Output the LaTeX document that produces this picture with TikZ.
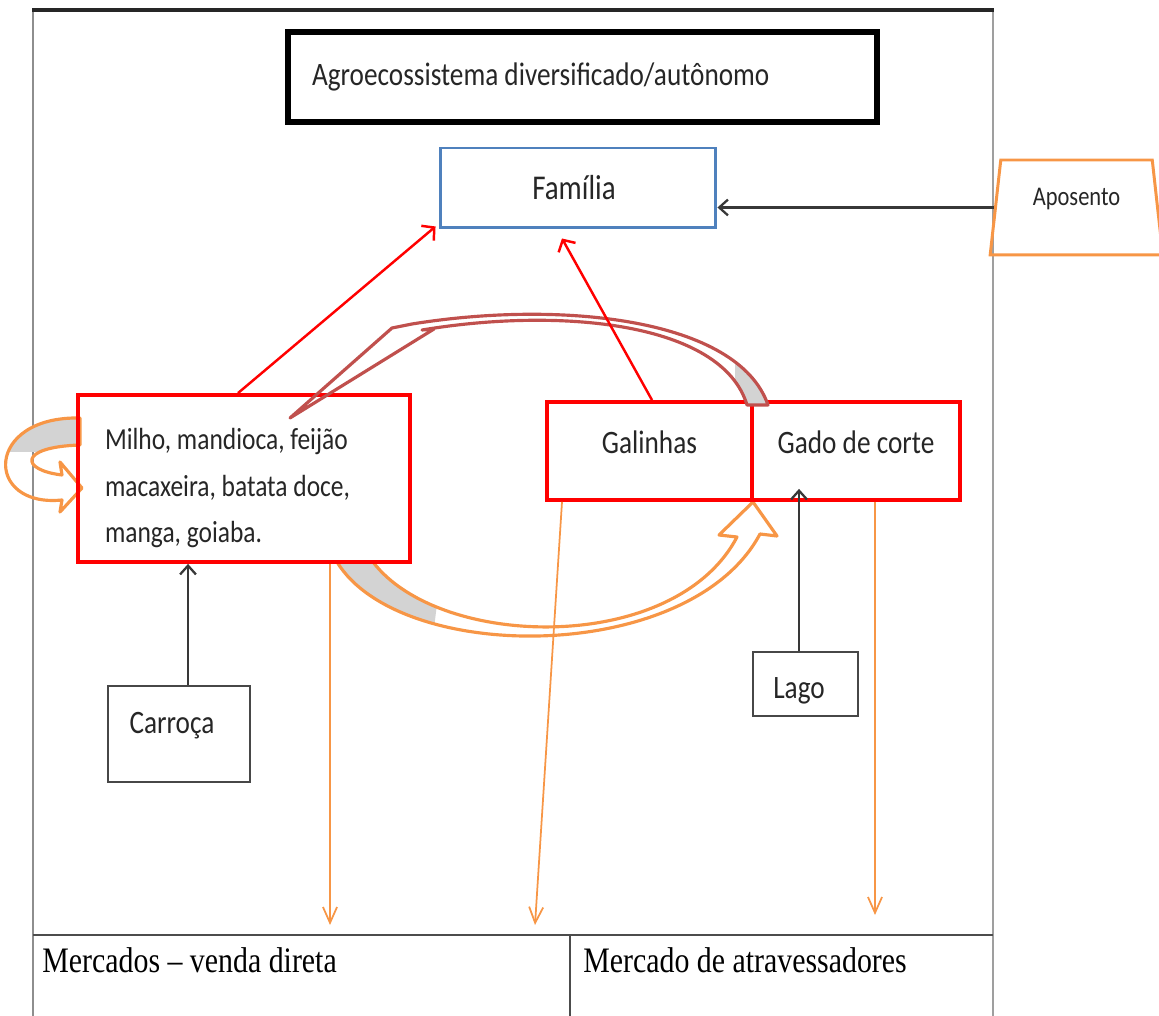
\documentclass[tikz,border=0pt]{standalone}
\usepackage{fontspec}
\usepackage{graphicx}
\setmainfont{Carlito}
\newfontfamily\cellserif{Liberation Serif}
\usetikzlibrary{arrows.meta,shapes.geometric,calc}

\definecolor{boxred}{HTML}{FF0000}
\definecolor{famblue}{HTML}{4F81BD}
\definecolor{accorange}{HTML}{F79646}
\definecolor{arcred}{HTML}{C0504D}
\definecolor{backgrey}{HTML}{D3D3D3}
\definecolor{framegrey}{HTML}{8E8E8E}
\definecolor{inkdark}{HTML}{262626}

% text in this figure is set slightly taller than wide
\newcommand{\stretchtext}[1]{\scalebox{1}[1.2]{#1}}

\begin{document}
\begin{tikzpicture}[x=0.02cm, y=-0.02cm,
  lbl/.style={text=inkdark, font=\fontsize{15.5}{18}\selectfont, inner sep=0pt},
  redbox/.style={lbl, draw=boxred, line width=2.2pt},
  greybox/.style={lbl, draw=black!72, line width=1.1pt},
  cellfont/.style={text=black, font=\cellserif\fontsize{17}{20}\selectfont, inner sep=0pt},
  redarrow/.style={draw=boxred, line width=1.4pt, -{Straight Barb[length=5pt,width=11pt]}},
  blackarrow/.style={draw=black!78, line width=1.3pt, -{Straight Barb[length=5pt,width=9pt]}},
  orangearrow/.style={draw=accorange, line width=1pt, -{Straight Barb[length=9pt,width=8pt]}},
  bandline/.style={line width=1.8pt, line join=round},
]
\useasboundingbox (0,0) rectangle (1159,1016);
\clip (0,0) rectangle (1159,1016);

% outer frame and market table
\draw[framegrey, line width=1.2pt] (33,10) -- (33,1030);
\draw[framegrey!85, line width=1.2pt] (993,10) -- (993,1030);
\draw[black!85, line width=1.8pt] (32,10) -- (994,10);
\draw[black!70, line width=1.5pt] (33,935) -- (993,935);
\draw[black!70, line width=1pt] (570,935) -- (570,1030);

\node[cellfont, anchor=base west] (mdireta) at (42,972) {\stretchtext{Mercados – venda direta}};
\node[cellfont, anchor=base west] (matrav) at (583,972) {\stretchtext{Mercado de atravessadores}};

% curved orange arrow: crops feed the livestock
\def\cropband{(337,562) .. controls (400,665) and (690,665) .. (760,534) -- (777,536) -- (753,502) -- (719,535) -- (737,537) .. controls (675,655) and (440,650) .. (373,562) -- cycle}
\begin{scope}
  \clip (300,540) -- (445,540) -- (425,700) -- (300,700) -- cycle;
  \fill[backgrey] \cropband;
\end{scope}
\draw[accorange, bandline] \cropband;

% looped orange arrow on the crop box
\def\loopband{(80,418) .. controls (-16,416) and (-16,508) .. (62,500) -- (60,512) -- (82,488) -- (60,462) -- (62,475) .. controls (20,470) and (18,447) .. (80,445) -- cycle}
\begin{scope}
  \clip (0,400) rectangle (82,452);
  \fill[backgrey] \loopband;
\end{scope}
\draw[accorange, bandline] \loopband;

% boxes
\node[draw=black, line width=3.4pt, minimum width=11.78cm, minimum height=1.8cm, lbl] (title) at (582.5,77)
  {\parbox{10.82cm}{\stretchtext{Agroecossistema diversificado/autônomo}}};

\node[lbl, draw=famblue, line width=1.7pt, minimum width=5.52cm, minimum height=1.6cm,
  font=\fontsize{16.5}{20}\selectfont] (fam) at (578,188) {\stretchtext{Família}\hspace*{0.16cm}};

\node[lbl, trapezium, trapezium stretches=true, trapezium left angle=81, trapezium right angle=81,
  minimum width=3.46cm, minimum height=1.9cm, draw=accorange, line width=1.7pt,
  font=\fontsize{12.8}{15}\selectfont] (apo) at (1076.5,207.5)
  {\raisebox{0pt}[\height][\dimexpr\depth+0.34cm\relax]{\stretchtext{Aposento}}};

\node[redbox, minimum width=6.64cm, minimum height=3.34cm, font=\fontsize{14.5}{22}\selectfont] (milho) at (244,478.5)
  {\raisebox{0pt}[\dimexpr\height+0.34cm\relax][\depth]{\parbox{5.56cm}{\stretchtext{\begin{tabular}{@{}l@{}}Milho, mandioca, feijão\\ macaxeira, batata doce,\\ manga, goiaba.\end{tabular}}}}};

\node[redbox, minimum width=4.1cm, minimum height=1.96cm] (galinhas) at (649.5,451)
  {\raisebox{0pt}[\height][\dimexpr\depth+0.36cm\relax]{\stretchtext{Galinhas}}};
\node[redbox, minimum width=4.16cm, minimum height=1.96cm] (gado) at (856,451)
  {\raisebox{0pt}[\height][\dimexpr\depth+0.36cm\relax]{\stretchtext{Gado de corte}}};

\node[greybox, minimum width=2.84cm, minimum height=1.92cm] (carroca) at (179,734)
  {\raisebox{0pt}[\height][\dimexpr\depth+0.35cm\relax]{\stretchtext{Carroça}\hspace*{0.28cm}}};
\node[greybox, minimum width=2.1cm, minimum height=1.28cm] (lago) at (805.5,684)
  {\raisebox{0pt}[\dimexpr\height+0.29cm\relax][\depth]{\stretchtext{Lago}\hspace*{0.26cm}}};

% curved arrow from the cattle back to the crops
\def\returnband{(768,405) .. controls (738,318) and (560,300) .. (412,324) -- (392,328) -- (290,418) -- (434,329) -- (422,330) .. controls (560,307) and (722,322) .. (747,405) -- cycle}
\begin{scope}
  \clip (735,340) rectangle (780,408);
  \fill[backgrey] \returnband;
\end{scope}
\draw[arcred, line width=1.8pt, line join=round] \returnband;

% straight connectors
\draw[redarrow] ($(milho.north)+(-6,0)$) -- ($(fam.south west)+(-3,-3)$);
\draw[redarrow] ($(galinhas.north)+(2.5,0)$) -- ($(fam.south)+(-16,9)$);
\draw[blackarrow] (apo.west) -- (fam.east |- apo.west);

\coordinate (cartop) at ($(carroca.north)+(9,0)$);
\draw[blackarrow] (cartop) -- (cartop |- milho.south);
\coordinate (lagotop) at ($(lago.north)+(-6.5,0)$);
\draw[blackarrow] (lagotop) -- ($(lagotop |- gado.south)+(0,-13)$);

\coordinate (sale1) at (330,925);
\coordinate (sale2) at (535,925);
\coordinate (sale3) at (875,915);
\draw[orangearrow] ($(milho.south)+(86,0)$) -- (sale1);
\draw[orangearrow] ($(galinhas.south)+(-87.5,0)$) -- (sale2);
\draw[orangearrow] ($(gado.south)+(19,0)$) -- (sale3);
\end{tikzpicture}
\end{document}
